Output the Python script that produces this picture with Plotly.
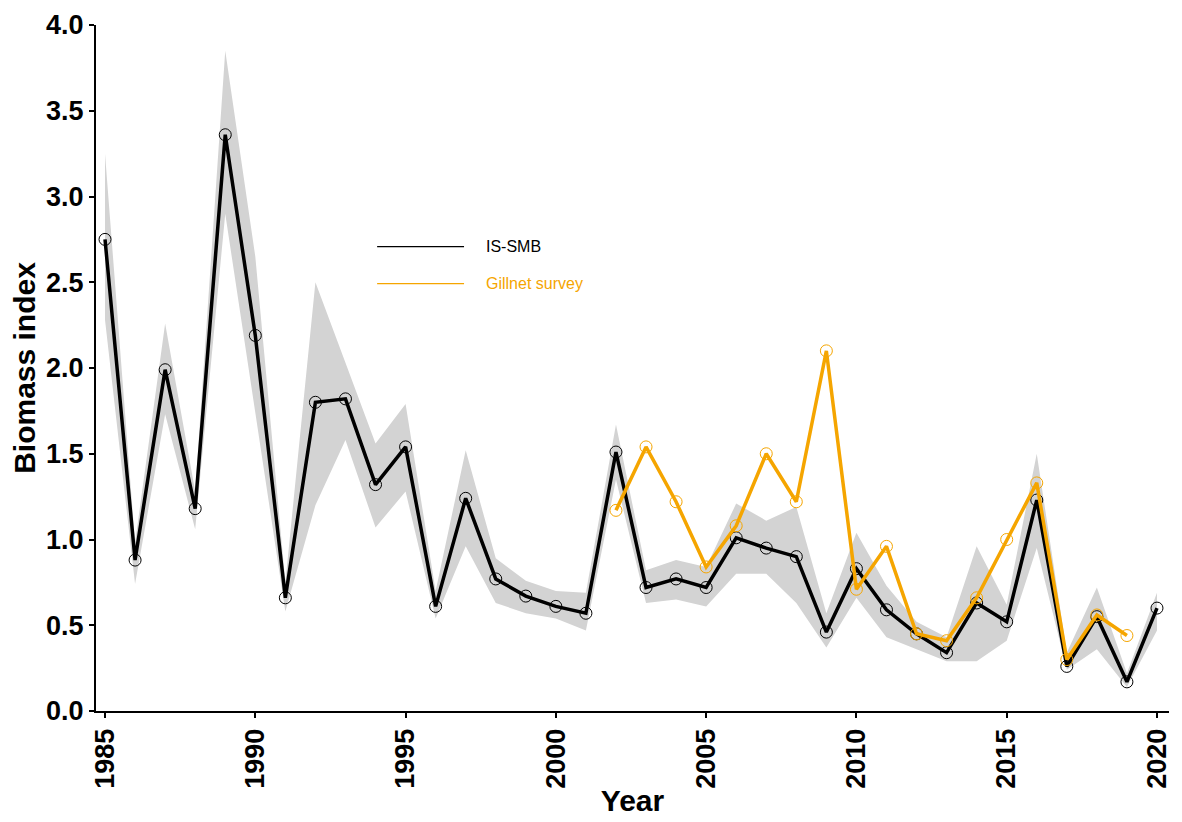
import plotly.graph_objects as go

# Survey years
years = list(range(1985, 2021))

# IS-SMB biomass index with confidence band
smb_index = [2.75, 0.88, 1.99, 1.18, 3.36, 2.19, 0.66, 1.80, 1.82, 1.32,
             1.54, 0.61, 1.24, 0.77, 0.67, 0.61, 0.57, 1.51, 0.72, 0.77,
             0.72, 1.01, 0.95, 0.90, 0.46, 0.83, 0.59, 0.45, 0.34, 0.63,
             0.52, 1.23, 0.26, 0.55, 0.17, 0.60]
smb_upper = [3.25, 0.98, 2.26, 1.28, 3.85, 2.65, 0.75, 2.50, 2.03, 1.56,
             1.79, 0.70, 1.52, 0.89, 0.76, 0.70, 0.69, 1.67, 0.82, 0.88,
             0.84, 1.21, 1.11, 1.19, 0.57, 1.04, 0.73, 0.52, 0.43, 0.96,
             0.62, 1.50, 0.34, 0.72, 0.22, 0.69]
smb_lower = [2.28, 0.74, 1.73, 1.06, 2.90, 1.75, 0.58, 1.20, 1.58, 1.07,
             1.28, 0.54, 0.96, 0.63, 0.57, 0.54, 0.47, 1.35, 0.63, 0.65,
             0.61, 0.80, 0.80, 0.63, 0.37, 0.66, 0.43, 0.36, 0.29, 0.29,
             0.41, 0.95, 0.24, 0.36, 0.14, 0.47]

# Gillnet survey biomass index
gill_years = list(range(2002, 2020))
gill_index = [1.17, 1.54, 1.22, 0.84, 1.08, 1.50, 1.22, 2.10, 0.71, 0.96,
              0.45, 0.41, 0.66, 1.00, 1.33, 0.30, 0.56, 0.44]

x_ticks = [1985, 1990, 1995, 2000, 2005, 2010, 2015, 2020]
y_ticks = [0.0, 0.5, 1.0, 1.5, 2.0, 2.5, 3.0, 3.5, 4.0]

BAND = "#D3D3D3"
ORANGE = "#F5A500"
FONT = "Liberation Sans, Arial, sans-serif"

fig = go.Figure()

fig.add_trace(go.Scatter(x=years, y=smb_upper, mode="lines",
                         line=dict(width=0, color=BAND), hoverinfo="skip",
                         showlegend=False))
fig.add_trace(go.Scatter(x=years, y=smb_lower, mode="lines",
                         line=dict(width=0, color=BAND), fill="tonexty",
                         fillcolor=BAND, hoverinfo="skip", showlegend=False))

fig.add_trace(go.Scatter(x=years, y=smb_index, mode="lines+markers",
                         line=dict(color="black", width=3.5),
                         marker=dict(symbol="circle-open", size=12,
                                     color="black", line=dict(width=1)),
                         name="IS-SMB", showlegend=False))
fig.add_trace(go.Scatter(x=gill_years, y=gill_index, mode="lines+markers",
                         line=dict(color=ORANGE, width=3.5),
                         marker=dict(symbol="circle-open", size=12,
                                     color=ORANGE, line=dict(width=1)),
                         name="Gillnet survey", showlegend=False))

# Hand-placed key
key_items = [("IS-SMB", "black", 0.677), ("Gillnet survey", ORANGE, 0.623)]
for label, colour, ypos in key_items:
    fig.add_shape(type="line", xref="paper", yref="paper",
                  x0=0.262, x1=0.343, y0=ypos, y1=ypos,
                  line=dict(color=colour, width=1.3))
    fig.add_annotation(xref="paper", yref="paper", x=0.3615, y=ypos,
                       text=label, showarrow=False, xanchor="left",
                       yanchor="middle",
                       font=dict(family=FONT, size=16, color=colour))

fig.update_layout(
    width=1182, height=822,
    margin=dict(l=96, r=10, t=21, b=111),
    plot_bgcolor="white", paper_bgcolor="white",
    font=dict(family=FONT, color="black"),
    showlegend=False,
)
fig.update_xaxes(
    range=[1984.7, 2020.4], tickvals=x_ticks,
    ticktext=[f"<b>{v}</b>" for v in x_ticks], tickangle=-90,
    tickfont=dict(size=27, family=FONT, color="black"),
    showline=True, linecolor="black", linewidth=2, mirror=False,
    ticks="outside", ticklen=5, tickwidth=2, tickcolor="black",
    showgrid=False, zeroline=False,
    title=dict(text="<b>Year</b>", font=dict(size=30, family=FONT), standoff=2),
)
fig.update_yaxes(
    range=[0, 4], tickvals=y_ticks,
    ticktext=[f"<b>{v:.1f}</b>" for v in y_ticks],
    tickfont=dict(size=27, family=FONT, color="black"),
    showline=True, linecolor="black", linewidth=2,
    ticks="outside", ticklen=5, tickwidth=2, tickcolor="black",
    showgrid=False, zeroline=False,
    title=dict(text="<b>Biomass index</b>", font=dict(size=30, family=FONT),
               standoff=2),
)

fig.write_html("out.html")
